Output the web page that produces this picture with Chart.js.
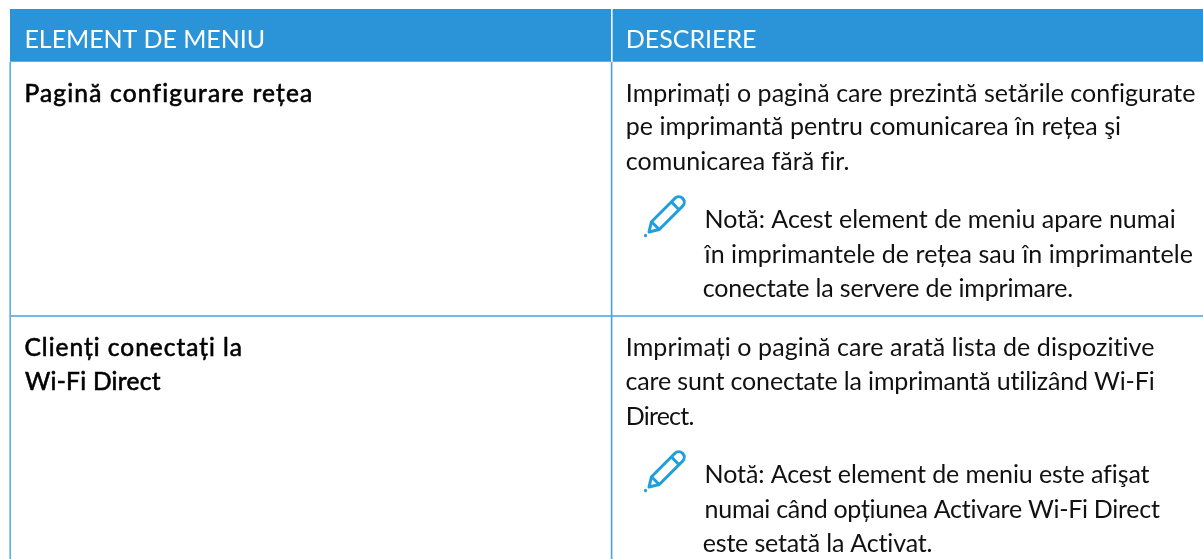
<!DOCTYPE html>
<html><head><meta charset="utf-8">
<style>html,body{margin:0;padding:0;background:#fff;overflow:hidden}canvas{display:block}</style>
<script src="https://cdn.jsdelivr.net/npm/chart.js@4/dist/chart.umd.min.js"></script>
</head><body><canvas id="c" width="1203" height="559"></canvas>
<script>
const headerLabels = ["ELEMENT DE MENIU", "DESCRIERE"];
const rowTitles = [["Pagină configurare rețea"], ["Clienți conectați la", "Wi-Fi Direct"]];
const rowDescriptions = [
  ["Imprimați o pagină care prezintă setările configurate", "pe imprimantă pentru comunicarea în rețea şi", "comunicarea fără fir."],
  ["Imprimați o pagină care arată lista de dispozitive", "care sunt conectate la imprimantă utilizând Wi-Fi", "Direct."]
];
const rowNotes = [
  ["Notă: Acest element de meniu apare numai", "în imprimantele de rețea sau în imprimantele", "conectate la servere de imprimare."],
  ["Notă: Acest element de meniu este afişat", "numai când opțiunea Activare Wi-Fi Direct", "este setată la Activat."]
];

const BLUE = "#2b94d8", RULE = "#45a2de";
const FONT = '"Lato", sans-serif';
// [text, x-start, x-end, baseline, weight, colour]
const T = [
  [headerLabels[0], 24.5, 265, 48, 400, "#fff"],
  [headerLabels[1], 625.8, 756.5, 48, 400, "#fff"],
  [rowTitles[0][0], 24.5, 313, 102, 500, "#000"],
  [rowTitles[1][0], 24.5, 243, 356, 500, "#000"],
  [rowTitles[1][1], 25, 160.7, 390, 500, "#000"],
  [rowDescriptions[0][0], 625.8, 1195, 102, 400, "#111"],
  [rowDescriptions[0][1], 625.8, 1121, 135, 400, "#111"],
  [rowDescriptions[0][2], 625.8, 849, 170, 400, "#111"],
  [rowNotes[0][0], 704.6, 1175.8, 228, 400, "#111"],
  [rowNotes[0][1], 704.6, 1193, 263, 400, "#111"],
  [rowNotes[0][2], 702.7, 1073, 297, 400, "#111"],
  [rowDescriptions[1][0], 625.8, 1155, 356, 400, "#111"],
  [rowDescriptions[1][1], 625.5, 1155, 390, 400, "#111"],
  [rowDescriptions[1][2], 625.8, 693.5, 425, 400, "#111"],
  [rowNotes[1][0], 704.6, 1149, 483, 400, "#111"],
  [rowNotes[1][1], 704.6, 1160, 518, 400, "#111"],
  [rowNotes[1][2], 702.7, 932.7, 552, 400, "#111"]
];
const iconTips = [[645.5, 235.5], [645.5, 490.5]];

const tablePlugin = {
  id: "tableText",
  afterDatasetsDraw(chart) {
    const ctx = chart.ctx, sx = chart.scales.x, sy = chart.scales.y;
    ctx.save();
    ctx.textBaseline = "alphabetic"; ctx.textAlign = "left";
    for (const [s, x0, x1, y, w, col] of T) {
      ctx.font = (w === 500 ? "400 24.5px " : "400 25px ") + FONT;
      ctx.letterSpacing = "0px";
      const natural = ctx.measureText(s).width;
      const target = sx.getPixelForValue(x1) - sx.getPixelForValue(x0);
      ctx.letterSpacing = ((target - natural) / Math.max(1, s.length)).toFixed(3) + "px";
      ctx.fillStyle = col;
      ctx.fillText(s, sx.getPixelForValue(x0), sy.getPixelForValue(y));
      if (w === 500) { ctx.strokeStyle = col; ctx.lineWidth = 0.6; ctx.strokeText(s, sx.getPixelForValue(x0), sy.getPixelForValue(y)); }
    }
    ctx.letterSpacing = "0px";
    for (const [tx, ty] of iconTips) {
      ctx.save();
      ctx.translate(sx.getPixelForValue(tx), sy.getPixelForValue(ty));
      ctx.rotate(-Math.PI / 4);
      ctx.strokeStyle = "#1f9fdc"; ctx.fillStyle = "#1f9fdc"; ctx.lineWidth = 3; ctx.lineJoin = "round";
      ctx.beginPath(); ctx.arc(0, 0, 1.6, 0, 7); ctx.fill();
      ctx.beginPath();
      ctx.moveTo(5, 0); ctx.lineTo(14, -5.5); ctx.lineTo(44, -5.5);
      ctx.arc(47, 0, 5.5, -Math.PI / 2, Math.PI / 2);
      ctx.lineTo(14, 5.5); ctx.closePath(); ctx.stroke();
      ctx.beginPath(); ctx.moveTo(42, -5.5); ctx.lineTo(42, 5.5); ctx.moveTo(14, -5.5); ctx.lineTo(14, 5.5); ctx.stroke();
      ctx.restore();
    }
    ctx.restore();
  }
};
const seg = (a, b, color, w) => ({ data: [a, b], showLine: true, borderColor: color, borderWidth: w, pointRadius: 0, borderCapStyle: "butt" });
new Chart(document.getElementById("c"), {
  type: "scatter",
  data: { datasets: [
    seg({x: 10, y: 35.3}, {x: 611, y: 35.3}, BLUE, 52.8),
    seg({x: 612.6, y: 35.3}, {x: 1203, y: 35.3}, BLUE, 52.8),
    seg({x: 10.2, y: 62}, {x: 10.2, y: 559}, "#5aaee2", 1.6),
    seg({x: 611.6, y: 62}, {x: 611.6, y: 559}, RULE, 1.6),
    seg({x: 10, y: 316}, {x: 1203, y: 316}, RULE, 1.3)
  ]},
  options: {
    responsive: false, animation: false, events: [],
    layout: { padding: 0 },
    plugins: { legend: { display: false }, tooltip: { enabled: false } },
    scales: {
      x: { type: "linear", min: 0, max: 1203, display: false },
      y: { type: "linear", min: 0, max: 559, reverse: true, display: false }
    }
  },
  plugins: [tablePlugin]
});
</script></body></html>
